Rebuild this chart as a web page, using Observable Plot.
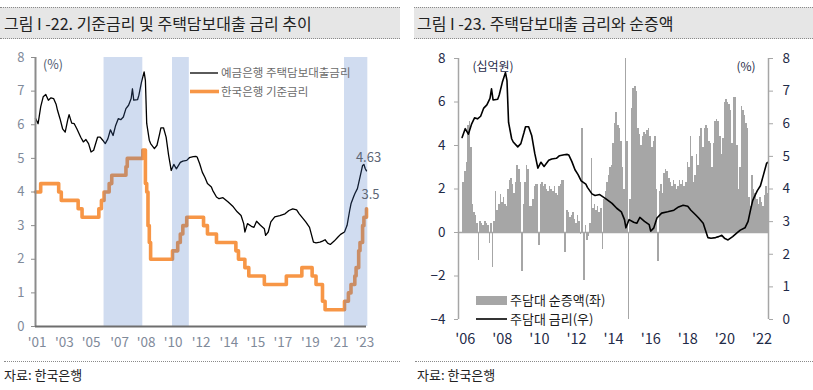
<!DOCTYPE html>
<html><head><meta charset="utf-8">
<script src="https://cdn.jsdelivr.net/npm/d3@7"></script>
<script src="https://cdn.jsdelivr.net/npm/@observablehq/plot@0.6"></script>
<style>
body{margin:0;background:#fff;font-family:"Noto Sans CJK KR",sans-serif;}
#page{position:relative;width:813px;height:390px;overflow:hidden;background:#fff;}
.tbar{position:absolute;top:7px;height:30px;background:#e6e6e6;border-top:1px dotted #8a8a8a;border-bottom:1px dotted #8a8a8a;font-size:16px;line-height:30px;color:#222;white-space:nowrap;box-sizing:content-box;}
.src{position:absolute;top:361px;border-top:1px dotted #8a8a8a;font-size:13px;line-height:16px;padding-top:5px;color:#222;white-space:nowrap;}
.chart{position:absolute;top:0;}
</style></head>
<body><div id="page">
<div class="tbar" style="left:0;width:396px;padding-left:4px">그림 I -22. 기준금리 및 주택담보대출 금리 추이</div>
<div class="tbar" style="left:414px;width:396px;padding-left:3px">그림 I -23. 주택담보대출 금리와 순증액</div>
<div class="src" style="left:4px;width:396px">자료: 한국은행</div>
<div class="src" style="left:415px;width:396px;padding-left:2px">자료: 한국은행</div>
<div id="left" class="chart" style="left:0"></div>
<div id="right" class="chart" style="left:405px"></div>
</div>
<script>
// ---------- data ----------
const mortgageRate = [
["2001-09",6.19],["2001-11",6.03],["2002-01",6.53],["2002-03",6.83],["2002-05",6.90],["2002-07",6.73],
["2002-09",6.80],["2002-11",6.78],["2003-01",6.60],["2003-02",6.43],["2003-04",6.18],["2003-06",5.88],
["2003-08",5.78],["2003-10",6.15],["2003-11",6.30],["2004-01",6.05],["2004-03",6.03],["2004-05",5.88],
["2004-08",5.63],["2004-10",5.49],["2004-12",5.56],["2005-02",5.44],["2005-04",5.19],["2005-06",5.24],
["2005-09",5.63],["2005-11",5.63],["2006-01",5.54],["2006-03",5.44],["2006-05",5.58],["2006-07",5.85],
["2006-09",5.68],["2006-11",5.98],["2007-01",6.18],["2007-03",6.15],["2007-05",6.23],["2007-07",6.48],
["2007-09",6.58],["2007-11",6.78],["2007-12",7.07],["2008-01",6.73],["2008-04",6.75],["2008-05",6.88],
["2008-07",7.27],["2008-09",7.57],["2008-10",7.32],["2008-11",6.04],["2009-01",5.54],["2009-02",5.44],
["2009-05",5.29],["2009-07",5.39],["2009-09",5.73],["2009-10",5.91],["2009-12",5.91],["2010-02",5.63],
["2010-04",5.09],["2010-06",4.64],["2010-08",4.82],["2010-10",4.69],["2011-01",4.88],["2011-03",4.92],
["2011-06",4.94],["2011-08",5.02],["2011-11",5.05],["2012-01",5.06],["2012-02",5.04],["2012-04",4.84],
["2012-06",4.59],["2012-08",4.44],["2012-10",4.25],["2013-01",4.15],["2013-02",4.05],["2013-05",3.85],
["2013-07",3.80],["2013-10",3.83],["2014-02",3.70],["2014-06",3.56],["2014-09",3.41],["2014-12",3.30],
["2015-02",3.06],["2015-03",2.81],["2015-05",3.06],["2015-08",2.98],["2015-10",2.95],["2015-12",3.13],
["2016-03",3.01],["2016-06",2.91],["2016-07",2.71],["2016-09",2.81],["2016-11",3.11],["2017-02",3.26],
["2017-06",3.30],["2017-10",3.35],["2018-01",3.45],["2018-04",3.50],["2018-07",3.47],["2018-09",3.35],
["2018-12",3.21],["2019-02",3.11],["2019-05",2.95],["2019-07",2.66],["2019-08",2.51],["2019-10",2.49],
["2020-01",2.51],["2020-03",2.54],["2020-05",2.58],["2020-07",2.48],["2020-09",2.44],["2020-12",2.54],
["2021-03",2.66],["2021-05",2.74],["2021-08",2.81],["2021-10",3.01],["2021-12",3.45],["2022-01",3.65],
["2022-03",3.85],["2022-04",3.95],["2022-06",4.10],["2022-08",4.44],["2022-10",4.79],["2022-11",4.82],
["2022-12",4.70],["2023-01",4.63]
];
const baseRate = [
["2001-09",4.00],["2002-01",4.25],["2003-03",4.00],["2003-05",3.75],["2004-06",3.50],["2004-09",3.25],
["2005-10",3.50],["2005-12",3.75],["2006-02",4.00],["2006-06",4.25],["2006-08",4.50],["2007-07",4.75],
["2007-08",5.00],["2008-08",5.25],["2008-10",4.25],["2008-11",4.00],["2008-12",3.00],["2009-01",2.50],
["2009-02",2.00],["2010-07",2.25],["2010-11",2.50],["2011-01",2.75],["2011-03",3.00],["2011-06",3.25],
["2012-07",3.00],["2012-10",2.75],["2013-05",2.50],["2014-08",2.25],["2014-10",2.00],["2015-03",1.75],
["2015-06",1.50],["2016-06",1.25],["2017-11",1.50],["2018-11",1.75],["2019-07",1.50],["2019-10",1.25],
["2020-03",0.75],["2020-05",0.50],["2021-08",0.75],["2021-11",1.00],["2022-01",1.25],["2022-04",1.50],
["2022-05",1.75],["2022-07",2.25],["2022-08",2.50],["2022-10",3.00],["2022-11",3.25],["2023-01",3.50]
];
const hikePeriods = [["2006-02","2008-08"],["2010-07","2011-08"],["2021-08","2023-02"]];
const leftTickDates = ["2001-10-10","2003-07-13","2005-04-04","2007-02-01","2008-10-20","2010-07-15","2012-05-06",
  "2014-02-15","2015-11-12","2017-08-10","2019-05-22","2021-03-25","2022-11-22"];
const leftTickLabels = ["'01","'03","'05","'07","'08","'10","'12","'14","'15","'17","'19","'21","'23"];
const leftYTicks = [0,1,2,3,4,5,6,7,8];
const leftLegend = ["예금은행 주택담보대출금리","한국은행 기준금리"];

const netStart = "2006-06";
const netIncrease = [
2.3,2.8,3.2,4.9,5.1,3.9,1.3,0.9,0.8,0.4,-1.3,
0.5,0.4,0.3,0.5,0.4,0.3,-0.5,0.4,-1.6,
0.5,1.9,1.0,1.3,1.75,1.4,1.6,
1.3,1.2,2.0,2.4,2.5,2.2,1.8,2.3,3.1,2.9,2.3,-1.8,
1.3,2.3,3.1,2.9,1.2,1.2,1.5,
2.1,2.2,2.2,-0.6,2.2,2.3,2.1,2.2,2.0,1.9,2.1,2.0,1.9,2.1,1.8,1.7,2.1,2.2,2.4,2.4,
-0.9,
1.0,0.9,0.7,0.8,0.9,0.6,0.4,0.8,0.5,-0.1,
4.8,-2.2,0.3,-0.35,-0.2,0.4,3.4,
1.1,1.3,1.0,1.2,0.9,1.1,
-0.8,
1.5,1.9,2.3,2.6,3.0,3.1,
4.1,5.0,5.5,4.9,4.8,4.2,3.0,2.0,
8.0,4.2,-4.0,
1.5,5.7,6.6,6.7,6.5,4.8,4.5,4.0,4.4,4.6,4.5,4.7,4.8,4.4,3.9,4.2,4.4,2.0,-1.35,
1.9,2.2,1.8,2.7,2.9,2.8,2.5,2.3,2.1,2.4,2.2,2.0,2.1,2.4,2.2,2.4,2.1,2.3,
3.2,3.0,4.4,3.5,2.3,2.6,3.6,3.1,4.4,4.8,3.9,4.8,4.9,4.8,4.2,4.1,3.0,4.1,5.1,5.2,5.1,4.4,3.6,4.3,
6.0,6.1,6.0,5.9,5.6,4.1,6.2,6.2,4.0,2.0,3.0,5.8,5.6,5.4,5.0,4.8,
1.6,1.2,2.6,2.0,1.8,1.5,1.3,1.6,1.4,1.2,1.7,2.1,1.8
];
const rightTickDates = ["2006-07","2008-07","2010-07","2012-07","2014-07","2016-07","2018-07","2020-07","2022-07"];
const rightTickLabels = ["'06","'08","'10","'12","'14","'16","'18","'20","'22"];
const rightYTicksLeft = [-4,-2,0,2,4,6,8];
const rightYTicksRight = [0,1,2,3,4,5,6,7,8];
const rightLegend = ["주담대 순증액(좌)","주담대 금리(우)"];

// ---------- build ----------
const pm = d3.utcParse("%Y-%m");
const pd = d3.utcParse("%Y-%m-%d");
const FONT = "'Noto Sans CJK KR', 'Noto Sans', sans-serif";
const rate = mortgageRate.map(([d,v]) => ({date: pm(d), v}));
const base = baseRate.map(([d,v]) => ({date: pm(d), v}));
const shades = hikePeriods.map(([a,b]) => ({x1: pm(a), x2: pm(b)}));
const lTicks = leftTickDates.map(pd);
const lLabel = new Map(lTicks.map((d,i) => [+d, leftTickLabels[i]]));

const leftPlot = Plot.plot({
  width: 405, height: 390,
  marginLeft: 35, marginRight: 39, marginTop: 57, marginBottom: 64,
  x: {type: "utc", domain: [pm("2001-09"), pm("2023-01")]},
  y: {domain: [0, 8]},
  style: {fontFamily: FONT, fontSize: "13px", color: "#7f8a9a", background: "transparent", overflow: "visible"},
  marks: [
    Plot.line(base, {x: "date", y: "v", curve: "step-after", stroke: "#f79646", strokeWidth: 3.6}),
    Plot.line(rate, {x: "date", y: "v", stroke: "#000", strokeWidth: 1.3}),
    Plot.rect(shades, {x1: "x1", x2: "x2", y1: 0, y2: 8, fill: "rgb(68,114,196)", fillOpacity: 0.25}),
    Plot.ruleX([pm("2001-09")], {y1: 0, y2: 8, stroke: "#8c8c8c", strokeWidth: 2}),
    Plot.ruleY([0], {stroke: "#6e6e6e", strokeWidth: 2}),
    Plot.axisY(leftYTicks, {tickSize: 4, tickPadding: 7, stroke: "#8c8c8c", fill: "#7f8a9a", fontSize: 13, label: null}),
    Plot.axisX(lTicks, {tickSize: 0, tickPadding: 11, tickFormat: d => lLabel.get(+d), fill: "#7f8a9a", fontSize: 13.5, label: null}),
    Plot.text(rate.slice(-1), {x: "date", y: "v", text: d => String(d.v), dy: -13, dx: 2, fill: "#5d6675", fontSize: 13}),
    Plot.text(base.slice(-1), {x: "date", y: "v", text: d => String(d.v), dy: -14, dx: 4, fill: "#5d6675", fontSize: 13})
  ]
});
document.getElementById("left").appendChild(leftPlot);
{
  const s = d3.select(leftPlot);
  const t = (x, y, txt, fill, size) => s.append("text").attr("x", x).attr("y", y).attr("dy", "0.35em")
    .attr("text-anchor", "start").attr("fill", fill).style("font-size", size).text(txt);
  t(43, 65, "(%)", "#4f5b70", "12.5px");
  s.append("line").attr("x1", 190).attr("x2", 218).attr("y1", 73).attr("y2", 73).attr("stroke", "#000").attr("stroke-width", 1.3);
  s.append("line").attr("x1", 190).attr("x2", 219).attr("y1", 91.5).attr("y2", 91.5).attr("stroke", "#f79646").attr("stroke-width", 3.6);
  t(221, 73, leftLegend[0], "#6b6b6b", "11.5px");
  t(221, 91.5, leftLegend[1], "#6b6b6b", "11.5px");
}

// right chart
const RX0 = pd("2006-02-19"), RX1 = pd("2022-11-07");
const net = netIncrease.map((v, i) => {
  const date = d3.utcMonth.offset(pm(netStart), i);
  return {date, v, x1: d3.utcDay.offset(date, -15), x2: d3.utcDay.offset(d3.utcMonth.offset(date, 1), -15)};
});
const rateR = rate.filter(d => d.date >= pm("2006-05") && d.date <= pm("2022-11"));
const rTicks = rightTickDates.map(pm);
const rLabel = new Map(rTicks.map((d,i) => [+d, rightTickLabels[i]]));
const toLeft = v => -4 + 1.5 * v;
const NAVY = "#1f2b48";

const rightPlot = Plot.plot({
  width: 408, height: 390,
  marginLeft: 53, marginRight: 45, marginTop: 58, marginBottom: 71,
  x: {type: "utc", domain: [RX0, RX1]},
  y: {domain: [-4, 8]},
  style: {fontFamily: FONT, fontSize: "13px", color: NAVY, background: "transparent", overflow: "visible"},
  marks: [
    Plot.rect(net, {x1: "x1", x2: "x2", y1: 0, y2: "v", fill: "#a6a6a6", shapeRendering: "crispEdges"}),
    Plot.ruleY([0], {stroke: "#a6a6a6", strokeWidth: 1.5}),
    Plot.line(rateR, {x: "date", y: d => toLeft(d.v), stroke: "#000", strokeWidth: 1.6}),
    Plot.ruleX([RX0], {y1: -4, y2: 8, stroke: "#a6a6a6", strokeWidth: 1.5}),
    Plot.ruleX([RX1], {y1: -4, y2: 8, stroke: "#a6a6a6", strokeWidth: 1.5}),
    Plot.axisY(rightYTicksLeft, {anchor: "left", tickSize: 4, tickPadding: 9, stroke: "#a6a6a6", fill: NAVY, fontSize: 13.5, label: null}),
    Plot.axisY(rightYTicksRight.map(toLeft), {anchor: "right", tickSize: 4, tickPadding: 10, stroke: "#a6a6a6", fill: NAVY, fontSize: 13.5,
      tickFormat: d => String(Math.round((d + 4) / 1.5)), label: null}),
    Plot.axisX(rTicks, {anchor: "bottom", tickSize: 0, tickPadding: 14, tickFormat: d => rLabel.get(+d), fill: NAVY, fontSize: 14.5, label: null})
  ]
});
document.getElementById("right").appendChild(rightPlot);
{
  const s = d3.select(rightPlot), o = 405;
  const t = (x, y, txt, fill, size, anchor) => s.append("text").attr("x", x - o).attr("y", y).attr("dy", "0.35em")
    .attr("text-anchor", anchor).attr("fill", fill).style("font-size", size).text(txt);
  t(493, 67, "(십억원)", NAVY, "12px", "middle");
  t(746, 67, "(%)", NAVY, "12px", "middle");
  s.append("rect").attr("x", 476 - o).attr("y", 296).attr("width", 31).attr("height", 9).attr("fill", "#a6a6a6");
  s.append("line").attr("x1", 476 - o).attr("x2", 507 - o).attr("y1", 319).attr("y2", 319).attr("stroke", "#000").attr("stroke-width", 1.6);
  t(510, 300.5, rightLegend[0], "#1a1a1a", "13px", "start");
  t(510, 319, rightLegend[1], "#1a1a1a", "13px", "start");
}
</script>
</body></html>
